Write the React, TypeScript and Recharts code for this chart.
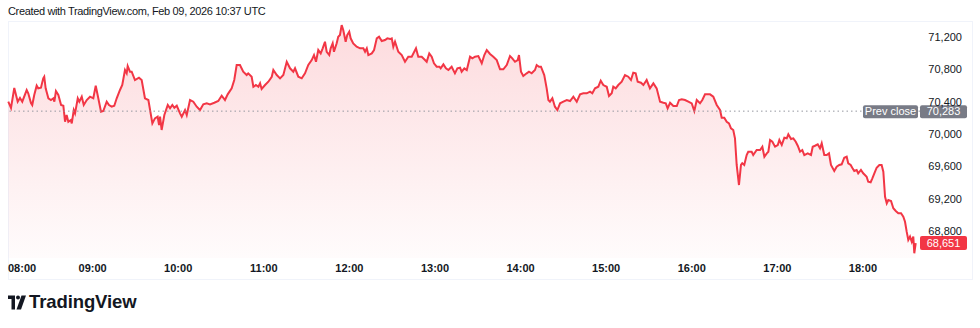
import React from "react";
import { ComposedChart, Area, XAxis, YAxis, ReferenceLine } from "recharts";

const LINE_RED = "#f23645";
const TEXT = "#131722";
const PREV_GRAY = "#787b86";
const FONT = '-apple-system, BlinkMacSystemFont, "Liberation Sans", Arial, sans-serif';

// minutes after 08:00 (local time)
const minutes = [
  0.9, 2.8, 5.1, 7.5, 9.1, 10.7, 13.8, 14.9, 16.8, 17.7,
  19.1, 20.8, 21.9, 23.8, 25.4, 26.1, 27.1, 29.0, 30.8, 32.5,
  33.2, 34.3, 36.0, 37.9, 39.5, 40.7, 41.8, 43.0, 44.7, 45.4,
  46.8, 47.7, 49.6, 50.7, 52.4, 53.8, 55.9, 58.2, 60.5, 62.2,
  64.0, 65.9, 67.5, 69.9, 71.5, 73.4, 75.2, 76.9, 79.2, 80.8,
  82.7, 83.9, 84.6, 86.2, 87.4, 89.7, 92.5, 94.4, 96.7, 99.1,
  101.9, 103.7, 105.6, 106.6, 107.3, 108.4, 110.3, 112.7, 114.3, 115.9,
  117.3, 119.0, 121.3, 122.5, 124.8, 126.0, 128.3, 130.6, 133.0, 135.3,
  137.6, 140.0, 142.3, 145.3, 148.1, 150.5, 152.8, 154.7, 157.5, 159.3,
  161.0, 163.3, 165.6, 168.0, 169.1, 171.5, 172.7, 174.5, 176.2, 177.4,
  178.5, 180.9, 183.2, 185.6, 186.7, 189.1, 191.4, 193.7, 196.1, 198.4,
  200.7, 201.9, 204.2, 206.6, 208.9, 211.2, 213.6, 215.2, 216.6, 218.2,
  219.9, 221.3, 222.9, 224.1, 225.9, 226.9, 228.3, 229.2, 231.1, 232.2,
  233.4, 234.6, 235.7, 237.4, 238.5, 239.9, 240.9, 242.7, 245.1, 247.5,
  249.8, 251.0, 252.2, 253.3, 255.7, 257.3, 259.2, 260.8, 262.7, 265.0,
  266.6, 268.5, 269.7, 270.8, 272.0, 274.3, 276.7, 279.0, 281.3, 283.7,
  286.7, 288.3, 290.7, 293.0, 294.2, 296.0, 297.7, 299.3, 301.2, 303.1,
  304.0, 305.9, 307.7, 309.4, 311.7, 314.0, 315.7, 317.6,
  318.7, 320.6, 322.3, 324.6, 326.2, 328.1, 330.4, 332.8, 334.6, 336.3,
  338.6, 340.9, 343.3, 345.6, 347.9, 350.3, 352.6, 354.2, 356.1, 358.0,
  358.9, 360.3, 361.9, 364.3, 365.9, 367.8, 370.1, 371.3, 372.9, 374.3,
  376.6, 378.3, 379.5, 380.6, 382.3, 384.1, 385.8, 387.7, 390.0, 392.4,
  394.7, 397.0, 399.4, 401.7, 404.0, 406.4, 408.7, 410.3, 412.2, 414.5,
  416.2, 418.0, 420.4, 422.0, 423.9, 425.0, 426.7, 428.5, 430.9, 433.2,
  435.5, 437.4, 439.0, 440.7, 442.1, 444.4, 446.1, 448.4, 450.7, 453.1,
  455.4, 457.8, 460.1, 461.8, 463.1, 464.8, 467.1, 469.5, 471.1, 473.0,
  475.3, 477.6,
  480.0, 481.8, 483.5, 485.8, 487.4, 489.3, 492.8, 495.1, 497.5, 499.8,
  501.0, 502.8, 504.5, 506.1, 507.5, 509.1, 510.3, 511.5, 513.1, 514.5,
  515.4, 516.8, 518.5, 519.6, 522.0, 523.1, 525.5, 527.9, 529.5, 530.9,
  532.6, 533.7, 534.9, 536.5, 538.4, 540.3, 541.4, 543.1, 544.9, 546.6,
  547.7, 549.6, 551.2, 552.9, 554.3, 555.9, 557.5, 558.9, 561.3, 563.6,
  564.8, 566.4, 568.3, 569.9, 571.1, 572.9, 574.6, 576.2, 577.6, 579.9,
  581.6, 583.4, 585.1, 586.9, 588.6, 589.7, 591.4, 592.5, 593.9, 595.6,
  596.7, 598.6, 600.2, 601.4, 602.6, 603.7, 605.4, 606.6, 608.0, 609.6,
  611.5, 613.1, 614.3, 615.5, 616.7, 617.8, 619.7, 621.3, 623.0, 624.8,
  626.7, 628.3, 629.5, 630.7, 631.8, 633.0, 634.2, 635.3, 636.0, 637.0,
];

const prices = [
  70400, 70322, 70569, 70400, 70446, 70400, 70544, 70504, 70384, 70359,
  70483, 70598, 70565, 70573, 70689, 70709, 70565, 70442, 70421, 70442,
  70400, 70532, 70483, 70359, 70350, 70152, 70235, 70152, 70173, 70132,
  70297, 70256, 70442, 70400, 70462, 70359, 70421, 70462, 70442, 70598,
  70442, 70276, 70285, 70400, 70359, 70338, 70350, 70442, 70545, 70606,
  70792, 70751, 70841, 70771, 70771, 70668, 70697, 70668, 70442, 70421,
  70132, 70194, 70214, 70111, 70214, 70050, 70235, 70359, 70318, 70359,
  70325, 70350, 70256, 70214, 70297, 70235, 70421, 70400, 70338, 70297,
  70367, 70380, 70367, 70387, 70408, 70474, 70421, 70491, 70565, 70668,
  70854, 70854, 70771, 70730, 70751, 70709, 70585, 70606, 70585, 70627,
  70557, 70606, 70647, 70709, 70792, 70730, 70689, 70730, 70894, 70813,
  70771, 70813, 70709, 70689, 70751, 70854, 70915, 70977, 70894, 71039,
  70998, 71060, 71142, 71018, 70977, 71060, 71122, 71018, 71122, 71204,
  71225, 71348, 71287, 71142, 71225, 71266, 71184, 71122, 71080, 71060,
  71060, 71018, 71060, 70977, 70998, 71039, 71184, 71204, 71150, 71163,
  71184, 71175, 71184, 71080, 71142, 71018, 70977, 70894, 70956, 70956,
  71060, 70956, 70956, 70915, 70894, 70998, 70956, 70875, 70833, 70833,
  70813, 70862, 70813, 70792, 70833, 70751, 70813, 70820,
  70771, 70813, 70792, 70956, 70936, 70956, 70965, 70875, 70977, 71039,
  70990, 70956, 70915, 70800, 70800, 70854, 70965, 70936, 70894, 70915,
  70977, 70771, 70718, 70751, 70771, 70751, 70792, 70854, 70833, 70833,
  70730, 70565, 70421, 70400, 70442, 70338, 70297, 70380, 70400, 70421,
  70408, 70462, 70400, 70491, 70504, 70504, 70524, 70504, 70565, 70585,
  70660, 70606, 70585, 70470, 70504, 70585, 70565, 70606, 70647, 70730,
  70709, 70668, 70759, 70751, 70647, 70635, 70606, 70668, 70565, 70627,
  70565, 70400, 70387, 70380, 70318, 70387, 70346, 70346, 70421, 70429,
  70421, 70400,
  70378, 70285, 70421, 70380, 70421, 70491, 70491, 70462, 70359, 70297,
  70202, 70202, 70152, 70132, 70071, 70050, 69947, 69617, 69369, 69617,
  69638, 69617, 69740, 69781, 69781, 69740, 69802, 69802, 69843, 69719,
  69761, 69781, 69926, 69905, 69843, 69864, 69926, 69864, 69954, 69947,
  69996, 69938, 69947, 69905, 69855, 69781, 69802, 69740, 69761, 69740,
  69843, 69855, 69873, 69823, 69885, 69740, 69740, 69761, 69617, 69542,
  69596, 69617, 69625, 69707, 69719, 69638, 69617, 69583, 69542, 69555,
  69514, 69555, 69514, 69493, 69472, 69410, 69403, 69452, 69514, 69583,
  69617, 69617, 69534, 69224, 69143, 69184, 69172, 69081, 69048, 69019,
  69019, 68977, 68915, 68789, 68689, 68730, 68668, 68730, 68524, 68651,
];

const hourTicks = [0, 60, 120, 180, 240, 300, 360, 420, 480, 540, 600];
const hourLabels = ["08:00", "09:00", "10:00", "11:00", "12:00", "13:00", "14:00", "15:00", "16:00", "17:00", "18:00"];
const priceTicks = [68800, 69200, 69600, 70000, 70400, 70800, 71200];
const PREV_CLOSE = 70283;
const LAST_PRICE = 68651;

const data = minutes.map((m, i) => ({ m, price: prices[i] }));

const fmt = (v: number) => v.toLocaleString("en-US");

const TimeTick = (props: any) => {
  const { x, y, payload, index } = props;
  const first = index === 0;
  return (
    <text
      x={first ? x + 1 : x}
      y={y}
      dy="0.35em"
      textAnchor={first ? "start" : "middle"}
      fill={TEXT}
      fontSize={11}
      fontWeight={600}
      fontFamily={FONT}
    >
      {hourLabels[hourTicks.indexOf(payload.value)]}
    </text>
  );
};

const PriceTick = (props: any) => {
  const { x, y, payload } = props;
  return (
    <text x={x} y={y} dy="0.35em" textAnchor="end" fill={TEXT} fontSize={11} fontFamily={FONT}>
      {fmt(payload.value)}
    </text>
  );
};

const PrevCloseLabel = (props: any) => {
  const { x, y, width } = props.viewBox;
  const right = x + width;
  return (
    <g fontFamily={FONT} fontSize={11}>
      <rect x={right - 57} y={y - 6} width={55} height={13} rx={2} fill={PREV_GRAY} />
      <text x={right - 29.5} y={y} dy="0.35em" textAnchor="middle" fill="#fff">Prev close</text>
      <rect x={right} y={y - 6} width={47} height={13} rx={2} fill={PREV_GRAY} />
      <text x={right + 23.5} y={y} dy="0.35em" textAnchor="middle" fill="#fff">{fmt(PREV_CLOSE)}</text>
    </g>
  );
};

const LastPriceLabel = (props: any) => {
  const { x, y, width } = props.viewBox;
  const right = x + width;
  return (
    <g fontFamily={FONT} fontSize={11}>
      <rect x={right} y={y - 7} width={47} height={14} rx={2} fill={LINE_RED} />
      <text x={right + 23.5} y={y} dy="0.35em" textAnchor="middle" fill="#fff">{fmt(LAST_PRICE)}</text>
    </g>
  );
};

const Logo: React.FC = () => (
  <div style={{ position: "absolute", left: 8, top: 291, display: "flex", alignItems: "center", gap: 3 }}>
    <svg width={18} height={15} viewBox="0 0 36 28">
      <path d="M0 0 H14 V28 H7 V7 H0 Z" fill={TEXT} />
      <circle cx={20} cy={4} r={4} fill={TEXT} />
      <path d="M27 0 H36 L26 28 H17 Z" fill={TEXT} />
    </svg>
    <span style={{ fontSize: 18.5, fontWeight: 700, color: TEXT, letterSpacing: -0.1 }}>TradingView</span>
  </div>
);

export default function App() {
  return (
    <div style={{ position: "absolute", left: 0, top: 0, width: 980, height: 328, background: "#fff", fontFamily: FONT }}>
      <div style={{ position: "absolute", left: 8, top: 5, fontSize: 11, color: TEXT, letterSpacing: -0.35 }}>
        Created with TradingView.com, Feb 09, 2026 10:37 UTC
      </div>
      <div style={{ position: "absolute", left: 8, top: 21, width: 963, height: 257, border: "1px solid #f0f3fa" }} />
      <div style={{ position: "absolute", left: 0, top: 0 }}>
        <ComposedChart width={980} height={328} data={data} margin={{ top: 22, right: 0, bottom: 50, left: 7 }}>
          <defs>
            <linearGradient id="areaFill" x1="0" y1="0" x2="0" y2="1">
              <stop offset="0%" stopColor={LINE_RED} stopOpacity={0.3} />
              <stop offset="100%" stopColor={LINE_RED} stopOpacity={0.03} />
            </linearGradient>
          </defs>
          <XAxis
            dataKey="m"
            type="number"
            domain={[0, 640]}
            ticks={hourTicks}
            tick={<TimeTick />}
            tickLine={false}
            axisLine={false}
            tickSize={0}
            tickMargin={10}
            height={20}
            interval={0}
          />
          <YAxis
            orientation="right"
            type="number"
            domain={[68466, 71386]}
            ticks={priceTicks}
            tick={<PriceTick />}
            tickLine={false}
            axisLine={false}
            tickSize={0}
            tickMargin={42}
            width={60}
            interval={0}
          />
          <ReferenceLine y={PREV_CLOSE} stroke="#9598a1" strokeDasharray="1.5 3" label={<PrevCloseLabel />} />
          <Area
            type="linear"
            dataKey="price"
            stroke={LINE_RED}
            strokeWidth={2}
            fill="url(#areaFill)"
            baseValue={68466}
            dot={false}
            activeDot={false}
            isAnimationActive={false}
          />
          <ReferenceLine y={LAST_PRICE} stroke="none" label={<LastPriceLabel />} />
        </ComposedChart>
      </div>
      <Logo />
    </div>
  );
}
